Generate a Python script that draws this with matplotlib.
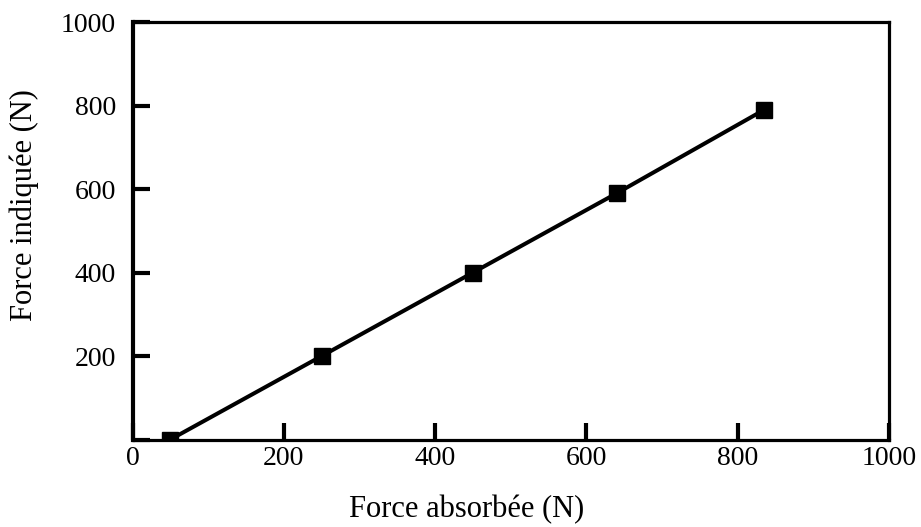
import matplotlib
matplotlib.use("Agg")
import matplotlib.pyplot as plt

# Données
force_absorbee = [50, 250, 450, 640, 835]
force_indiquee = [0, 200, 400, 590, 790]

x_ticks = [0, 200, 400, 600, 800, 1000]
y_ticks = [0, 200, 400, 600, 800, 1000]
y_tick_labels = ["", "200", "400", "600", "800", "1000"]

plt.rcParams['font.family'] = ['Liberation Serif', 'DejaVu Serif']

fig = plt.figure(figsize=(9.21, 5.27), dpi=100)
ax = fig.add_axes([0.1439, 0.166, 0.8214, 0.792])

ax.plot(force_absorbee, force_indiquee, color='black', linewidth=2.9,
        marker='s', markersize=11.5, markerfacecolor='black', markeredgecolor='black')

ax.set_xlim(0, 1000)
ax.set_ylim(0, 1000)
ax.set_xticks(x_ticks)
ax.set_yticks(y_ticks)
ax.set_yticklabels(y_tick_labels)

ax.tick_params(axis='both', direction='in', length=12, width=3, labelsize=20)
ax.tick_params(axis='y', pad=12)
ax.tick_params(axis='x', pad=5)
for side in ['top', 'right', 'bottom']:
    ax.spines[side].set_linewidth(2.3)
ax.spines['left'].set_linewidth(3)

ax.set_xlabel("Force absorbée (N)", fontsize=22, labelpad=17, x=0.442)
ax.set_ylabel("Force indiquée (N)", fontsize=22, labelpad=16, y=0.562)

fig.savefig("out.png", dpi=100)
